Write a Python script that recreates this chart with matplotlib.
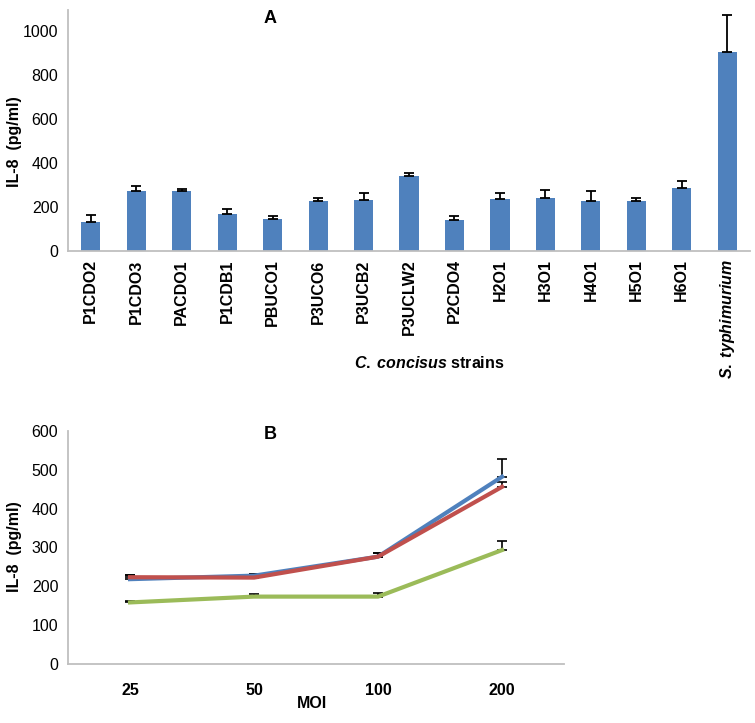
import numpy as np
import matplotlib
matplotlib.use("Agg")
import matplotlib.pyplot as plt

plt.rcParams['font.family'] = ['Liberation Sans', 'DejaVu Sans']
plt.rcParams['mathtext.fontset'] = 'custom'
plt.rcParams['mathtext.it'] = 'Liberation Sans:bold:italic'
plt.rcParams['mathtext.rm'] = 'Liberation Sans:bold'

# Panel A data
strains = ["P1CDO2", "P1CDO3", "PACDO1", "P1CDB1", "PBUCO1", "P3UCO6", "P3UCB2",
           "P3UCLW2", "P2CDO4", "H2O1", "H3O1", "H4O1", "H5O1", "H6O1",
           r"$S.\;typhimurium$"]
il8 = [133, 274, 273, 170, 147, 229, 232, 342, 141, 236, 241, 227, 227, 286, 903]
il8_err = [31, 21, 10, 20, 11, 12, 30, 14, 18, 26, 38, 44, 15, 32, 171]

# Panel B data
moi = ["25", "50", "100", "200"]
blue = [218, 227, 276, 482]
blue_err = [11, 3, 10, 45]
red = [223, 222, 276, 456]
red_err = [6, 8, 10, 13]
green = [158, 173, 173, 293]
green_err = [4, 7, 10, 24]

bar_color = "#4F81BD"
spine_color = "#BFBFBF"

fig = plt.figure(figsize=(7.55, 7.23), dpi=100)

# ---- Panel A ----
axA = fig.add_axes([0.0901, 0.6528, 0.9033, 0.3334])
x = np.arange(len(strains))
axA.bar(x, il8, width=0.42, color=bar_color, zorder=2)
axA.errorbar(x, il8, yerr=[np.zeros(len(il8)), il8_err], fmt='none',
             ecolor='black', elinewidth=1.3, capsize=3.5, capthick=1.3, zorder=3)
axA.set_xlim(-0.5, len(strains) - 0.5)
axA.set_ylim(0, 1095)
axA.set_yticks(range(0, 1001, 200))
axA.set_xticks(x)
axA.set_xticklabels(strains, rotation=90, fontsize=11.5, fontweight='bold')
axA.tick_params(axis='both', length=0, pad=6)
axA.tick_params(axis='y', labelsize=11.5, pad=7)
fig.text(15 / 755, 1 - 142 / 723, "IL-8  (pg/ml)", rotation=90, ha='center',
         va='center', fontsize=11.5, fontweight='bold')
axA.text(0.296, 1.0, "A", transform=axA.transAxes, ha='center', va='top',
         fontsize=13, fontweight='bold')
axA.text(0.53, -0.465, r"$C.\;concisus$ strains", transform=axA.transAxes,
         ha='center', va='center', fontsize=11.5, fontweight='bold')
for s in ['top', 'right']:
    axA.spines[s].set_visible(False)
for s in ['left', 'bottom']:
    axA.spines[s].set_color(spine_color)
    axA.spines[s].set_linewidth(1.3)

# ---- Panel B ----
axB = fig.add_axes([0.0901, 0.0820, 0.6570, 0.3219])
xb = np.arange(len(moi))
for vals, errs, col in [(blue, blue_err, "#4F81BD"), (red, red_err, "#C0504D"),
                        (green, green_err, "#9BBB59")]:
    axB.errorbar(xb, vals, yerr=[np.zeros(len(vals)), errs], color=col, lw=3,
                 ecolor='black', elinewidth=1.2, capsize=3.5, capthick=1.2)
axB.set_xlim(-0.5, len(moi) - 0.5)
axB.set_ylim(0, 600)
axB.set_yticks(range(0, 601, 100))
axB.set_xticks(xb)
axB.set_xticklabels(moi, fontsize=11.5, fontweight='bold')
axB.tick_params(axis='both', length=0)
axB.tick_params(axis='x', pad=14)
axB.tick_params(axis='y', labelsize=11.5, pad=7)
fig.text(15 / 755, 1 - 547 / 723, "IL-8  (pg/ml)", rotation=90, ha='center',
         va='center', fontsize=11.5, fontweight='bold')
axB.text(0.407, 0.983, "B", transform=axB.transAxes, ha='center', va='center',
         fontsize=13, fontweight='bold')
axB.text(0.492, -0.17, "MOI", transform=axB.transAxes, ha='center', va='center',
         fontsize=11.5, fontweight='bold')
for s in ['top', 'right']:
    axB.spines[s].set_visible(False)
for s in ['left', 'bottom']:
    axB.spines[s].set_color(spine_color)
    axB.spines[s].set_linewidth(1.3)

fig.savefig("out.png", dpi=100)
